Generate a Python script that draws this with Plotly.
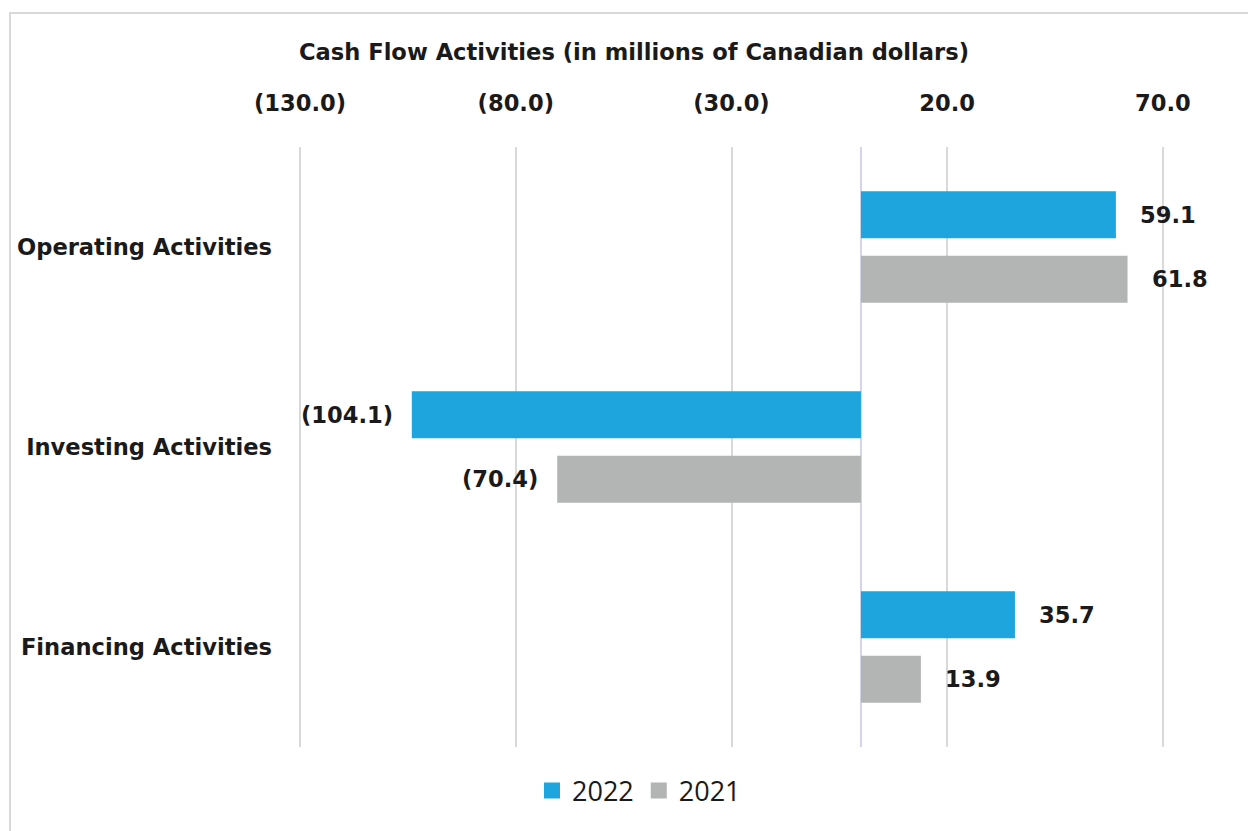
import plotly.graph_objects as go

categories = ["Operating Activities", "Investing Activities", "Financing Activities"]
values_2022 = [59.1, -104.1, 35.7]
values_2021 = [61.8, -70.4, 13.9]
series_names = ["2022", "2021"]
tick_vals = [-130, -80, -30, 20, 70]
tick_text = ["(130.0)", "(80.0)", "(30.0)", "20.0", "70.0"]

BLUE = "#1fa5de"
GRAY = "#b3b4b4"
FONT = "DejaVu Sans"
FS = 22.6
W, H = 1248, 831
L, R, T, B = 299, 84, 147, 84
X_RANGE = [-130.25, 70.25]


def fmt(v):
    return f"({abs(v):.1f})" if v < 0 else f"{v:.1f}"


fig = go.Figure()
for name, vals, color in ((series_names[0], values_2022, BLUE), (series_names[1], values_2021, GRAY)):
    fig.add_trace(go.Bar(name=name, y=categories, x=vals, orientation="h",
                         marker=dict(color=color, line=dict(width=0)),
                         legendgroup=name, showlegend=False))
for name, color in ((series_names[0], BLUE), (series_names[1], GRAY)):
    fig.add_trace(go.Scatter(name=name, x=[None], y=[None], mode="markers",
                             marker=dict(symbol="square", size=17, color=color),
                             legendgroup=name, showlegend=True))

annotations = []
for vals, shift in ((values_2022, 32), (values_2021, -32)):
    for cat, v in zip(categories, vals):
        annotations.append(dict(
            x=v, y=cat, xref="x", yref="y", text=fmt(v), showarrow=False,
            xanchor="left" if v >= 0 else "right",
            xshift=22 if v >= 0 else -17, yshift=shift,
            font=dict(family=FONT, size=FS, color="#1a1a1a", weight="bold"),
        ))

plot_w = W - L - R
plot_h = H - T - B
fx = lambda px: (px - L) / plot_w
fy = lambda py: (H - B - py) / plot_h

fig.update_layout(
    width=W, height=H,
    margin=dict(l=L, r=R, t=T, b=B),
    paper_bgcolor="white", plot_bgcolor="white",
    barmode="group", bargap=0.355, bargroupgap=0.27,
    title=dict(text="Cash Flow Activities (in millions of Canadian dollars)",
               x=634 / W, xanchor="center", y=1 - 52 / H, yanchor="middle",
               font=dict(family=FONT, size=FS, color="#1a1a1a", weight="bold")),
    xaxis=dict(side="top", range=X_RANGE, tickvals=tick_vals, ticktext=tick_text,
               showgrid=True, gridcolor="#d9d9d9", gridwidth=2,
               zeroline=True, zerolinecolor="#d4d4ea", zerolinewidth=2,
               showline=False, ticks="", ticklabelstandoff=30,
               tickfont=dict(family=FONT, size=FS, color="#1a1a1a", weight="bold")),
    yaxis=dict(categoryorder="array", categoryarray=categories,
               autorange="reversed",
               showgrid=False, zeroline=False, showline=False, ticks="",
               ticklabelstandoff=26,
               tickfont=dict(family=FONT, size=FS, color="#1a1a1a", weight="bold")),
    legend=dict(orientation="h", x=fx(639), xanchor="center", y=fy(791), yanchor="middle",
                traceorder="normal", itemwidth=30,
                font=dict(family="Open Sans", size=27, color="#1a1a1a")),
    annotations=annotations,
    shapes=[dict(type="rect", xref="paper", yref="paper",
                 x0=fx(10), x1=fx(W + 20), y0=fy(H + 20), y1=fy(13),
                 line=dict(color="#d9d9d9", width=2), fillcolor="rgba(0,0,0,0)",
                 layer="below")],
    showlegend=True,
)

fig.write_html("out.html")
